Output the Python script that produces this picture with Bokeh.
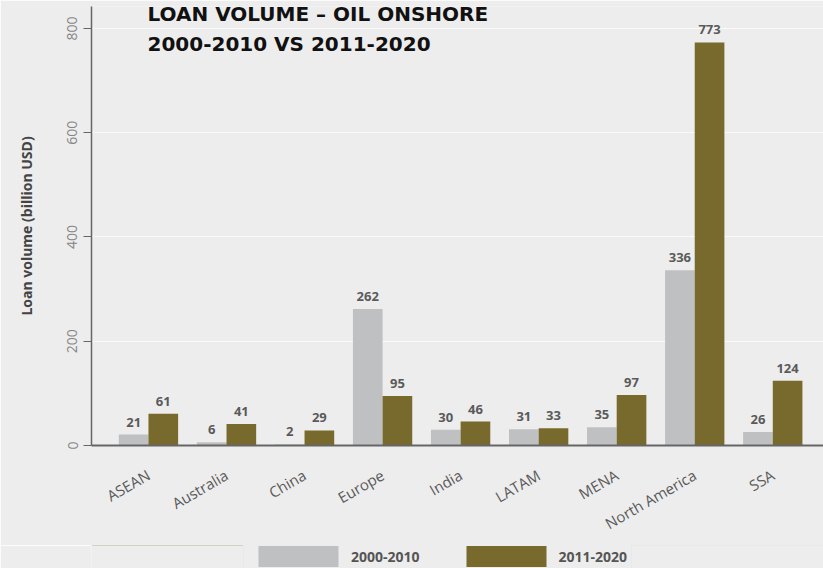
from bokeh.plotting import figure
from bokeh.layouts import column
from bokeh.models import ColumnDataSource, Range1d, FixedTicker, Label, Legend, LegendItem, LabelSet
from bokeh.embed import file_html
from bokeh.resources import INLINE
from bokeh.core.properties import value
import math

categories = ["ASEAN", "Australia", "China", "Europe", "India", "LATAM", "MENA", "North America", "SSA"]
period_2000_2010 = [21, 6, 2, 262, 30, 31, 35, 336, 26]
period_2011_2020 = [61, 41, 29, 95, 46, 33, 97, 773, 124]
series_names = ["2000-2010", "2011-2020"]
y_ticks = [0, 200, 400, 600, 800]

BG = "#ededed"
GRAY = "#bfc0c2"
OLIVE = "#776a2c"

idx = list(range(len(categories)))
off = 0.19
w = 0.38
src1 = ColumnDataSource(dict(x=[i - off for i in idx], top=period_2000_2010,
                             lab=[str(v) for v in period_2000_2010]))
src2 = ColumnDataSource(dict(x=[i + off for i in idx], top=period_2011_2020,
                             lab=[str(v) for v in period_2011_2020]))

p = figure(width=823, height=545, output_backend="svg", toolbar_location=None,
           x_range=Range1d(-0.73, 8.65), y_range=Range1d(0, 842),
           min_border_left=91, min_border_right=0, min_border_top=6, min_border_bottom=100)
p.background_fill_color = BG
p.border_fill_color = BG
p.outline_line_color = None

p.vbar(x="x", top="top", width=w, source=src1, fill_color=GRAY, line_color=None)
p.vbar(x="x", top="top", width=w, source=src2, fill_color=OLIVE, line_color=None)

for s in (src1, src2):
    p.add_layout(LabelSet(x="x", y="top", text="lab", source=s, y_offset=8,
                          text_align="center", text_baseline="bottom",
                          text_font=value("Open Sans"), text_font_style="bold",
                          text_font_size="13px", text_color="#5a5a5a"))

# axes
p.xaxis.ticker = FixedTicker(ticks=idx)
p.xaxis.major_label_overrides = {i: c for i, c in enumerate(categories)}
p.xaxis.major_label_orientation = math.pi / 6
p.xaxis.major_label_text_font = "Open Sans"
p.xaxis.major_label_text_font_size = "15px"
p.xaxis.major_label_text_color = "#5a5a5a"
p.xaxis.major_tick_line_color = None
p.xaxis.minor_tick_line_color = None
p.xaxis.axis_line_color = "#666666"
p.xaxis.axis_line_width = 2
p.xaxis.major_label_standoff = 22

p.yaxis.ticker = FixedTicker(ticks=y_ticks)
p.yaxis.major_label_orientation = "vertical"
p.yaxis.major_label_text_font = "Open Sans"
p.yaxis.major_label_text_font_size = "14px"
p.yaxis.major_label_text_color = "#858585"
p.yaxis.major_tick_out = 8
p.yaxis.major_tick_in = 0
p.yaxis.major_tick_line_color = "#666666"
p.yaxis.minor_tick_line_color = None
p.yaxis.axis_line_color = "#666666"
p.yaxis.axis_line_width = 1.5
p.yaxis.major_label_standoff = 6
p.yaxis.axis_label = "Loan volume (billion USD)"
p.yaxis.axis_label_text_font = "Open Sans"
p.yaxis.axis_label_text_font_style = "bold"
p.yaxis.axis_label_text_font_size = "14px"
p.yaxis.axis_label_text_color = "#444444"
p.yaxis.axis_label_standoff = 29

p.xgrid.grid_line_color = None
p.ygrid.grid_line_color = "#ffffff"
p.ygrid.grid_line_alpha = 0.7
p.ygrid.ticker = FixedTicker(ticks=y_ticks)

# title inside plot
p.add_layout(Label(x=56, y=432, x_units="screen", y_units="screen",
                   text="LOAN VOLUME – OIL ONSHORE", text_font="DejaVu Sans",
                   text_font_style="bold", text_font_size="20px", text_color="#111111",
                   text_baseline="alphabetic"))
p.add_layout(Label(x=56, y=402, x_units="screen", y_units="screen",
                   text="2000-2010 VS 2011-2020", text_font="DejaVu Sans",
                   text_font_style="bold", text_font_size="20px", text_color="#111111",
                   text_baseline="alphabetic"))

# legend strip below the chart (its bars lie outside its visible range)
pl = figure(width=823, height=23, output_backend="svg", toolbar_location=None,
            x_range=Range1d(0, 1), y_range=Range1d(-2, -1),
            min_border_left=0, min_border_right=0, min_border_top=0, min_border_bottom=0)
pl.background_fill_color = BG
pl.border_fill_color = BG
pl.outline_line_color = None
pl.axis.visible = False
pl.grid.grid_line_color = None
lr1 = pl.vbar(x="x", top="top", width=w, source=src1, fill_color=GRAY, line_color=None)
lr2 = pl.vbar(x="x", top="top", width=w, source=src2, fill_color=OLIVE, line_color=None)

legend = Legend(items=[LegendItem(label=series_names[0], renderers=[lr1]),
                       LegendItem(label=series_names[1], renderers=[lr2])],
                orientation="horizontal", location=(152, -6), margin=0,
                glyph_width=100, glyph_height=26, label_standoff=3, spacing=36,
                padding=4, background_fill_color=BG, border_line_color="#e2e6e2",
                label_text_font="Open Sans", label_text_font_style="bold",
                label_text_font_size="14px", label_text_color="#555555")
pl.add_layout(legend, "center")

layout = column(p, pl, spacing=0)
open("out.html", "w").write(file_html(layout, INLINE))
